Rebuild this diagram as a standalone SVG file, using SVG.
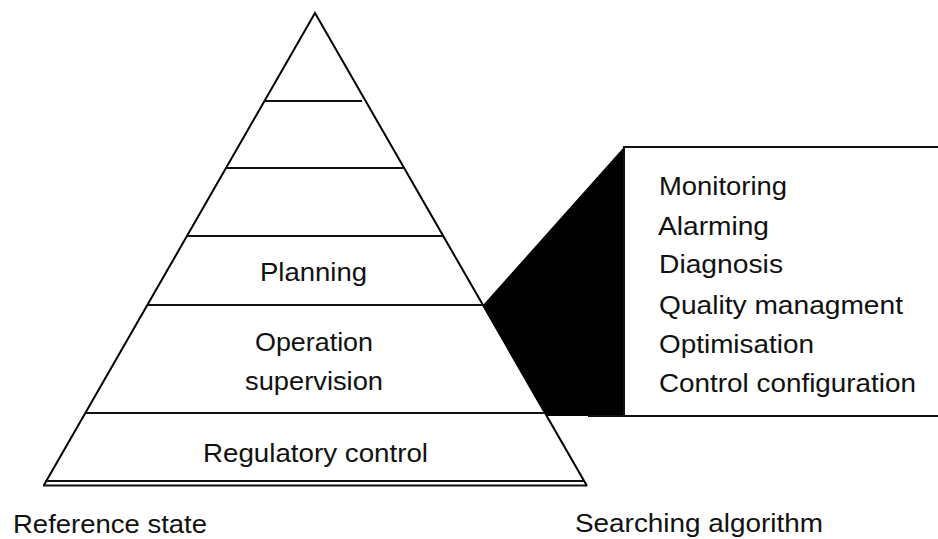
<svg xmlns="http://www.w3.org/2000/svg" width="938" height="539" viewBox="0 0 938 539">
  <style>
    .edge { stroke: #000; stroke-width: 2; fill: none; }
    .tier { stroke: #111; stroke-width: 2; }
    .lbl { font-family: "Liberation Sans", Arial, sans-serif; font-size: 25px; fill: #111; }
  </style>
  <rect width="938" height="539" fill="#fff"/>

  <!-- pyramid outline and tier dividers -->
  <g id="pyramid">
    <polyline class="edge" points="44,485 315,13 587,486"/>
    <line class="tier" x1="264" y1="101" x2="362" y2="101"/>
    <line class="tier" x1="226" y1="168" x2="404" y2="168"/>
    <line class="tier" x1="187" y1="236" x2="443" y2="236"/>
    <line class="tier" x1="147" y1="305" x2="483" y2="305"/>
    <line class="tier" x1="85" y1="413" x2="545" y2="413"/>
    <line class="tier" x1="45" y1="481" x2="584" y2="481"/>
    <line class="tier" x1="43" y1="485.5" x2="587" y2="485.5"/>
  </g>

  <!-- tier labels -->
  <g id="tier-planning">
    <text class="lbl" x="260" y="281" textLength="107" lengthAdjust="spacingAndGlyphs">Planning</text>
  </g>
  <g id="tier-operation">
    <text class="lbl" x="255" y="351" textLength="118" lengthAdjust="spacingAndGlyphs">Operation</text>
    <text class="lbl" x="245" y="390" textLength="138" lengthAdjust="spacingAndGlyphs">supervision</text>
  </g>
  <g id="tier-regulatory">
    <text class="lbl" x="203" y="462" textLength="225" lengthAdjust="spacingAndGlyphs">Regulatory control</text>
  </g>

  <!-- callout wedge linking the operation tier to the task list -->
  <g id="connectors">
    <polygon points="483,305 624,147 624,416 547,416" fill="#000"/>
    <line x1="588" y1="416" x2="624" y2="416" stroke="#111" stroke-width="2"/>
  </g>

  <!-- task list box -->
  <g id="task-box">
    <rect x="624" y="147" width="330" height="269" fill="#fff" stroke="#111" stroke-width="2"/>
    <text class="lbl" x="659" y="195" textLength="128" lengthAdjust="spacingAndGlyphs">Monitoring</text>
    <text class="lbl" x="658" y="235" textLength="111" lengthAdjust="spacingAndGlyphs">Alarming</text>
    <text class="lbl" x="659" y="273" textLength="124" lengthAdjust="spacingAndGlyphs">Diagnosis</text>
    <text class="lbl" x="659" y="314" textLength="244" lengthAdjust="spacingAndGlyphs">Quality managment</text>
    <text class="lbl" x="659" y="353" textLength="155" lengthAdjust="spacingAndGlyphs">Optimisation</text>
    <text class="lbl" x="659" y="392" textLength="257" lengthAdjust="spacingAndGlyphs">Control configuration</text>
  </g>

  <!-- axis captions -->
  <g id="caption-left">
    <text class="lbl" x="13" y="533" textLength="194" lengthAdjust="spacingAndGlyphs">Reference state</text>
  </g>
  <g id="caption-right">
    <text class="lbl" x="575" y="532" textLength="248" lengthAdjust="spacingAndGlyphs">Searching algorithm</text>
  </g>
</svg>
